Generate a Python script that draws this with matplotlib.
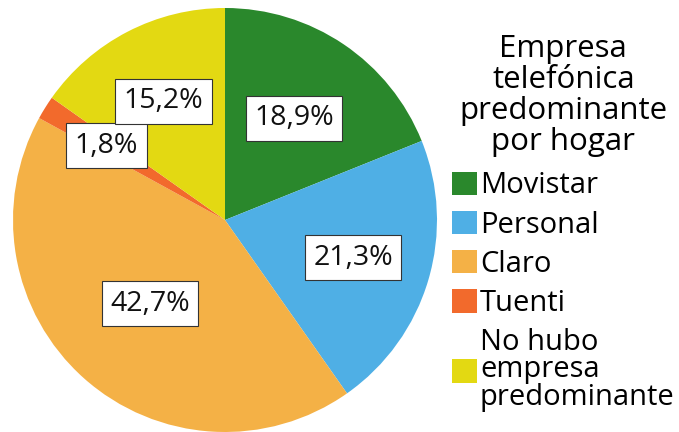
import matplotlib
matplotlib.use("Agg")
import matplotlib.pyplot as plt
import numpy as np

plt.rcParams['font.family'] = ['Open Sans', 'DejaVu Sans']

categories = ["Movistar", "Personal", "Claro", "Tuenti", "No hubo\nempresa\npredominante"]
values = [18.9, 21.3, 42.7, 1.8, 15.2]
labels = ["18,9%", "21,3%", "42,7%", "1,8%", "15,2%"]
colors = ["#2a882c", "#4fafe5", "#f4b146", "#f26a2c", "#e3d912"]
label_radius = [0.58, 0.63, 0.53, 0.66, 0.63]

fig = plt.figure(figsize=(6.79, 4.32), dpi=100)
ax = fig.add_axes([13/679, 1 - 432/432, 424/679, 424/432])
wedges, _ = ax.pie(values, colors=colors, startangle=90, counterclock=False,
                   wedgeprops=dict(linewidth=0))
ax.set_aspect('equal')
ax.set_xlim(-1, 1)
ax.set_ylim(-1, 1)

for w, lab, r in zip(wedges, labels, label_radius):
    ang = np.deg2rad((w.theta1 + w.theta2) / 2)
    ax.text(r * np.cos(ang), r * np.sin(ang), lab, ha='center', va='center',
            fontsize=20.5, color='#111111',
            bbox=dict(boxstyle='square,pad=0.3', fc='white', ec='#333333', lw=0.8))

leg = fig.legend(wedges, categories, title="Empresa\ntelefónica\npredominante\npor hogar",
                 loc='upper left', bbox_to_anchor=(452/679, 1 - 34/432),
                 frameon=False, fontsize=21, title_fontsize=22.5,
                 handlelength=0.86, handleheight=0.86, handletextpad=0.1,
                 labelspacing=0.35, borderaxespad=0, borderpad=0)
leg.get_title().set_multialignment('center')
leg.get_title().set_linespacing(1.04)
for t in leg.get_texts():
    t.set_linespacing(0.92)
leg._legend_box.align = 'center'
leg._legend_box.sep = 10.5

fig.savefig("out.png", dpi=100)
